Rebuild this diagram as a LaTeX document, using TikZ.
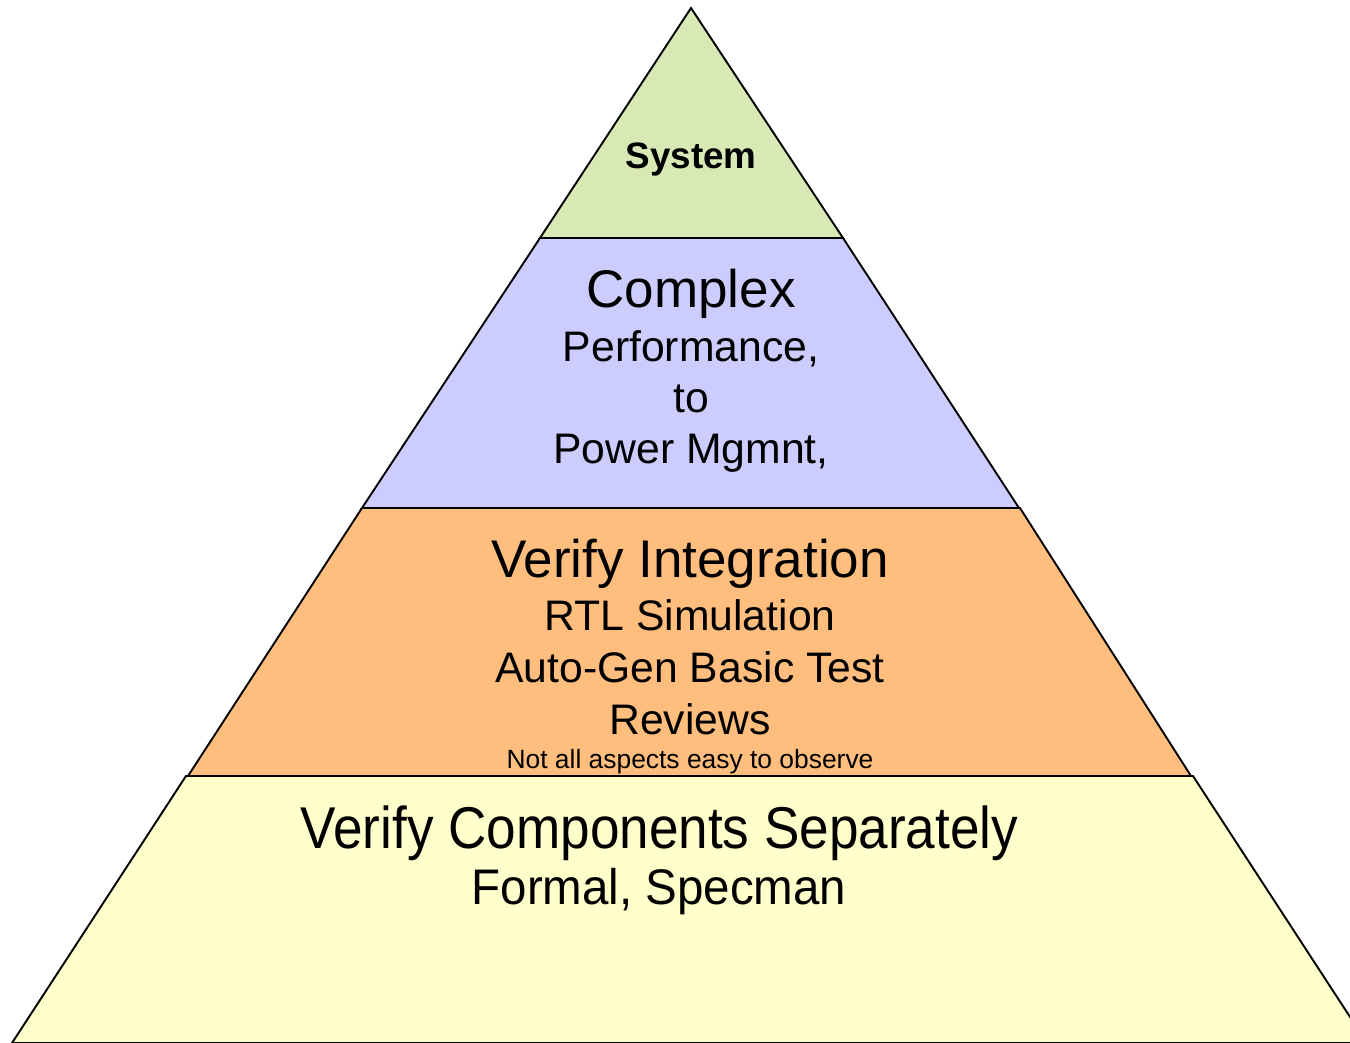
\documentclass[tikz,border=0pt]{standalone}
\usepackage{fontspec}
\setmainfont{Liberation Sans}
\definecolor{tgreen}{RGB}{216,233,182}
\definecolor{tblue}{RGB}{204,204,255}
\definecolor{torange}{RGB}{255,190,126}
\definecolor{tyellow}{RGB}{255,255,204}
\tikzset{
  tier/.style={draw=black,line width=1.9pt,line join=miter},
  head/.style={anchor=base,inner sep=0pt,font=\fontsize{53}{60}\selectfont},
  sub/.style={anchor=base,inner sep=0pt,font=\fontsize{42.7}{50}\selectfont},
  tiny/.style={anchor=base,inner sep=0pt,font=\fontsize{26.4}{30}\selectfont},
}
\begin{document}
\begin{tikzpicture}[x=1pt,y=-1pt]
\useasboundingbox (0,0) rectangle (1350,1043);
\clip (0,0) rectangle (1350,1043);
% tiers
\draw[tier,fill=tyellow] (186,776) -- (1193,776) -- (1367,1043) -- (12,1043) -- cycle;
\draw[tier,fill=torange] (362,508) -- (1020,508) -- (1191,776) -- (188,776) -- cycle;
\draw[tier,fill=tblue] (540,238) -- (843,238) -- (1019,508) -- (362,508) -- cycle;
\draw[tier,fill=tgreen] (691,8) -- (843,238) -- (540,238) -- cycle;
% texts
\node[anchor=base,inner sep=0pt,font=\fontsize{36.8}{40}\selectfont\bfseries] (sys) at (691,169) {System};
\node[head] (cx) at (691,308) {Complex};
\node[sub] (perf) at (691,361) {Performance,};
\node[sub] (to) at (691,412) {to};
\node[sub] (pm) at (691,463) {Power Mgmnt,};
\node[head] (vi) at (690,577) {Verify Integration};
\node[sub] (rtl) at (690,630) {RTL Simulation};
\node[sub] (ag) at (690,682) {Auto-Gen Basic Test};
\node[sub] (rev) at (690,734) {Reviews};
\node[tiny] (na) at (690,768) {Not all aspects easy to observe};
\node[anchor=base,inner sep=0pt] (vc) at (659.5,848) {\scalebox{0.9}[1]{\fontsize{59}{66}\selectfont Verify Components Separately}};
\node[anchor=base,inner sep=0pt] (fs) at (659,904) {\scalebox{0.95}[1]{\fontsize{50}{56}\selectfont Formal, Specman}};
\end{tikzpicture}
\end{document}
